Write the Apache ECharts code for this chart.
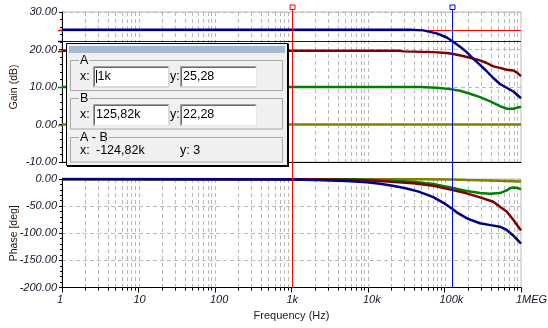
<!DOCTYPE html>
<html>
<head>
<meta charset="utf-8">
<script src="https://cdn.jsdelivr.net/npm/echarts@6/dist/echarts.min.js"></script>
<style>html,body{margin:0;padding:0;background:#fff;}#c{width:548px;height:328px;}</style>
</head>
<body>
<div id="c"></div>
<script>
// ---------- DATA ----------
const xTickLabels = ['1', '10', '100', '1k', '10k', '100k', '1MEG'];
const gainTickLabels = { '-10': '-10.00', '0': '0.00', '10': '10.00', '20': '20.00', '30': '30.00' };
const phaseTickLabels = { '-200': '-200.00', '-150': '-150.00', '-100': '-100.00', '-50': '-50.00', '0': '0.00' };
const gridFreqs = [2,3,4,5,6,7,8,9,10,20,30,40,50,60,70,80,90,100,200,300,400,500,600,700,800,900,1000,
  2000,3000,4000,5000,6000,7000,8000,9000,10000,20000,30000,40000,50000,60000,70000,80000,90000,100000,
  200000,300000,400000,500000,600000,700000,800000,900000];

const blueGainF = [1, 35000, 52800, 79000, 107000, 125820, 144000, 168000, 195000, 238000, 291000, 356000, 434000, 531000, 650000, 793000, 1000000];
const blueGainV = [25.28, 25.28, 25.1, 24.3, 23.2, 22.28, 21.4, 20.4, 19.3, 17.5, 15.9, 14.2, 12.4, 10.8, 9.8, 8.8, 7.0];
const cyanGainF = [1, 36000];
const cyanGainV = [24.95, 24.95];
const darkRedGainF = [1, 25000, 28900, 71400, 107000, 130000, 168000, 215000, 291000, 356000, 434000, 531000, 650000, 793000, 879000, 1000000];
const darkRedGainV = [19.7, 19.7, 19.5, 19.3, 19.05, 18.8, 18.35, 17.8, 17.1, 16.4, 15.5, 15.1, 14.6, 14.4, 13.9, 12.9];
const greenGainF = [1, 47900, 79000, 112000, 160000, 215000, 291000, 390000, 531000, 650000, 793000, 1000000];
const greenGainV = [10.0, 10.0, 9.8, 9.5, 9.0, 8.2, 7.3, 6.25, 4.9, 4.2, 4.2, 4.75];
const oliveGainF = [1, 1000000];
const oliveGainV = [0, 0];

const bluePhaseF = [1, 1000, 2000, 5300, 9600, 14400, 21000, 31000, 46000, 70000, 100000, 125820, 150000, 200000, 290000, 400000, 530000, 650000, 790000, 1000000];
const bluePhaseV = [0, -0.8, -2, -3.7, -6, -8.6, -12.3, -17.2, -23.3, -33, -45, -55, -63, -73, -81.5, -85, -88, -94, -104, -119];
const darkRedPhaseF = [1, 2000, 5300, 9600, 14400, 38900, 71400, 124000, 195000, 291000, 434000, 531000, 650000, 793000, 1000000];
const darkRedPhaseV = [0, -0.5, -1.5, -2.5, -3.7, -8, -12.3, -20, -26.4, -33.8, -42, -51, -60, -75, -95];
const greenPhaseF = [1, 5300, 14400, 38900, 71400, 124000, 195000, 291000, 390000, 531000, 650000, 718000, 793000, 900000, 1000000];
const greenPhaseV = [0, -0.5, -2.5, -5, -9, -16, -22, -26, -27.3, -26, -21, -17, -15.7, -16.5, -19.3];
const olivePhaseF = [1, 50000, 125000, 200000, 500000, 1000000];
const olivePhaseV = [0, -0.5, -1, -2, -3, -4.5];

const cursorX = [1000, 125820];
const cursorY = [25.28, 22.28];
const cursorColors = ['#ff0000', '#0000ff'];
const readoutA = ['1k', '25,28'];
const readoutB = ['125,82k', '22,28'];
const readoutDiff = ['-124,82k', '3'];

// ---------- CHART ----------
const NAVY = '#000080', DRED = '#800000', GREEN = '#008000', OLIVE = '#808000';
const pairs = (f, v) => f.map((x, i) => [x, v[i]]);
const chart = echarts.init(document.getElementById('c'), null, { renderer: 'canvas' });

function gridRenderer(withTicks) {
  return function (params, api) {
    const f = api.value(0);
    const p = api.coord([f, 0]);
    const cs = params.coordSys;
    const x = Math.round(p[0]) + 0.5;
    const children = [{
      type: 'line', shape: { x1: x, y1: cs.y, x2: x, y2: cs.y + cs.height },
      style: { stroke: '#b9b9b9', lineWidth: 1, lineDash: [4, 3] }
    }];
    const isDecade = Math.abs(Math.log10(f) - Math.round(Math.log10(f))) < 1e-9;
    if (withTicks && !isDecade) {
      children.push({ type: 'line', shape: { x1: x, y1: cs.y + cs.height, x2: x, y2: cs.y + cs.height + 3 },
        style: { stroke: '#000', lineWidth: 1 } });
    }
    return { type: 'group', children };
  };
}

const labelFont = { fontFamily: 'Liberation Sans, Arial, sans-serif', fontStyle: 'italic', fontSize: 11, color: '#15152a' };
const nameFont = { fontFamily: 'Liberation Sans, Arial, sans-serif', fontSize: 10.5, color: '#2a1608' };

function yAxisCfg(gi, min, max, interval, labels, name) {
  return {
    type: 'value', gridIndex: gi, min, max, interval,
    axisLine: { show: true, onZero: false, lineStyle: { color: '#000', width: 1 } },
    axisTick: { show: true, length: 3, lineStyle: { color: '#000' } },
    minorTick: { show: true, splitNumber: 5, length: 2, lineStyle: { color: '#000' } },
    splitLine: { show: true, lineStyle: { color: '#b9b9b9', type: [4, 3] } },
    axisLabel: Object.assign({ margin: 5, formatter: v => labels[String(v)] || '' }, labelFont),
    name, nameLocation: 'middle', nameGap: 42, nameRotate: 90, nameMoveOverlap: false, nameTextStyle: nameFont
  };
}

function xAxisCfg(gi, showLabels) {
  return {
    type: 'log', logBase: 10, gridIndex: gi, min: 1, max: 1000000,
    axisLine: { show: true, onZero: false, lineStyle: { color: '#000', width: 1 } },
    axisTick: { show: showLabels, length: 5, lineStyle: { color: '#000' } },
    splitLine: { show: false },
    axisLabel: Object.assign({ show: showLabels, margin: 7, showMinLabel: true, showMaxLabel: true,
      align: 'left', padding: [0, 0, 0, -5],
      formatter: v => xTickLabels[Math.round(Math.log10(v))] }, labelFont),
    name: showLabels ? 'Frequency (Hz)' : '', nameLocation: 'middle', nameGap: 23, nameMoveOverlap: false,
    nameTextStyle: { fontFamily: 'Liberation Sans, Arial, sans-serif', fontSize: 11, color: '#1a1a1a' }
  };
}

function lineSeries(xi, data, color, width) {
  return { type: 'line', xAxisIndex: xi, yAxisIndex: xi, data, showSymbol: false, symbol: 'none',
    lineStyle: { color, width }, itemStyle: { color }, silent: true, z: 3 };
}

const gridBase = { left: 62, width: 459, show: true, borderColor: '#bdbdbd', borderWidth: 1, backgroundColor: '#fff',
  containLabel: false, outerBoundsMode: 'none' };

const option = {
  animation: false,
  backgroundColor: '#fff',
  grid: [
    Object.assign({ top: 12, height: 150 }, gridBase),
    Object.assign({ top: 179, height: 108.5 }, gridBase)
  ],
  xAxis: [xAxisCfg(0, false), xAxisCfg(1, true)],
  yAxis: [
    yAxisCfg(0, -10, 30, 10, gainTickLabels, 'Gain (dB)'),
    yAxisCfg(1, -200, 0, 50, phaseTickLabels, 'Phase [deg]')
  ],
  series: [
    { type: 'custom', xAxisIndex: 0, yAxisIndex: 0, data: gridFreqs.map(f => [f]), renderItem: gridRenderer(false), silent: true, z: 1, clip: false },
    { type: 'custom', xAxisIndex: 1, yAxisIndex: 1, data: gridFreqs.map(f => [f]), renderItem: gridRenderer(true), silent: true, z: 1, clip: false },
    lineSeries(0, pairs(oliveGainF, oliveGainV), OLIVE, 2.5),
    lineSeries(0, pairs(greenGainF, greenGainV), GREEN, 2.5),
    lineSeries(0, pairs(darkRedGainF, darkRedGainV), DRED, 2.5),
    lineSeries(0, pairs(cyanGainF, cyanGainV), '#3cd6b4', 1),
    lineSeries(0, pairs(blueGainF, blueGainV), NAVY, 2.5),
    lineSeries(1, pairs(olivePhaseF, olivePhaseV), OLIVE, 2.5),
    lineSeries(1, pairs(greenPhaseF, greenPhaseV), GREEN, 2.5),
    lineSeries(1, pairs(darkRedPhaseF, darkRedPhaseV), DRED, 2.5),
    lineSeries(1, pairs(bluePhaseF, bluePhaseV), NAVY, 2.5)
  ]
};
chart.setOption(option);

// ---------- CURSORS & READOUT (positions from the chart's own scales) ----------
const P = (g, x, y) => chart.convertToPixel({ gridIndex: g }, [x, y]);
const g = [];
let n = 0;
const add = (e) => { e.id = 'e' + (n++); g.push(e); };
const left = P(0, 1, 30)[0];
const right = P(0, 1000000, 30)[0];
const bottomY = P(1, 1, -200)[1];
// horizontal cursor lines (beneath the curves)
cursorY.forEach((v, i) => {
  const y = Math.round(P(0, 1, v)[1]) + 0.5;
  add({ type: 'line', z: 2, silent: true, shape: { x1: left, y1: y, x2: right, y2: y }, style: { stroke: cursorColors[i], lineWidth: 1 } });
});
// level marks at left axis (curves and cursors)
[[cursorY[0], cursorColors[0]], [cursorY[1], cursorColors[1]], [darkRedGainV[0], DRED], [greenGainV[0], GREEN], [oliveGainV[0], OLIVE]].forEach(([v, c]) => {
  const y = Math.round(P(0, 1, v)[1]) + 0.5;
  add({ type: 'line', z: 4, silent: true, shape: { x1: left - 4, y1: y, x2: left, y2: y }, style: { stroke: c, lineWidth: 1.5 } });
});
// vertical cursor lines with square handles
cursorX.forEach((f, i) => {
  const x = Math.round(P(0, f, 0)[0]) + 0.5;
  add({ type: 'line', z: 5, silent: true, shape: { x1: x, y1: 9.5, x2: x, y2: bottomY }, style: { stroke: cursorColors[i], lineWidth: 1 } });
  add({ type: 'rect', z: 5, silent: true, shape: { x: x - 2.5, y: 5, width: 5, height: 4.5 }, style: { fill: '#fff', stroke: cursorColors[i], lineWidth: 1 } });
});

// readout box
const FONT = 'Liberation Sans, Arial, sans-serif';
const Z = 20;
function txt(x, y, s) {
  return { type: 'text', z: Z + 2, silent: true, x, y,
    style: { text: s, fill: '#000', font: '12.5px ' + FONT, textVerticalAlign: 'middle', textAlign: 'left' } };
}
function inputBox(x, y, w, h) {
  return [
    { type: 'rect', z: Z + 1, silent: true, shape: { x, y, width: w, height: h }, style: { fill: '#fff', stroke: '#a0a0a0', lineWidth: 1 } },
    { type: 'polyline', z: Z + 1, silent: true, shape: { points: [[x + 1, y + h - 1], [x + 1, y + 1], [x + w - 1, y + 1]] }, style: { stroke: '#696969', lineWidth: 1, fill: null } },
    { type: 'polyline', z: Z + 1, silent: true, shape: { points: [[x + 1, y + h], [x + w, y + h], [x + w, y]] }, style: { stroke: '#e8e8e8', lineWidth: 1, fill: null } }
  ];
}
function frame(y, h, label) {
  return [
    { type: 'rect', z: Z + 1, silent: true, shape: { x: 70.5, y, width: 212, height: h }, style: { fill: null, stroke: '#a8a8a8', lineWidth: 1 } },
    { type: 'text', z: Z + 2, silent: true, x: 79, y: y,
      style: { text: label, fill: '#000', font: '12.5px ' + FONT, textVerticalAlign: 'middle', backgroundColor: '#f0f0f0', padding: [0, 1] } }
  ];
}
add({ type: 'rect', z: Z, silent: true, shape: { x: 66.5, y: 43.5, width: 221, height: 122 }, style: { fill: '#f0f0f0', stroke: '#000', lineWidth: 1 } });
add({ type: 'line', z: Z, silent: true, shape: { x1: 288.5, y1: 44, x2: 288.5, y2: 167 }, style: { stroke: '#000', lineWidth: 1 } });
add({ type: 'line', z: Z, silent: true, shape: { x1: 67, y1: 166.5, x2: 289, y2: 166.5 }, style: { stroke: '#000', lineWidth: 1 } });
add({ type: 'rect', z: Z + 1, silent: true, shape: { x: 69, y: 46, width: 216, height: 7 }, style: { fill: '#a3bad2' } });
frame(60.5, 30, 'A').forEach(add);
frame(98.5, 30.5, 'B').forEach(add);
frame(137.5, 24.5, 'A - B').forEach(add);
inputBox(93.5, 66.5, 75.5, 20.5).forEach(add);
inputBox(180.5, 66.5, 76, 20.5).forEach(add);
inputBox(93.5, 104.5, 75.5, 21).forEach(add);
inputBox(180.5, 104.5, 76, 21).forEach(add);
add({ type: 'line', z: Z + 2, silent: true, shape: { x1: 96.5, y1: 70, x2: 96.5, y2: 83 }, style: { stroke: '#000', lineWidth: 1 } });
[txt(80, 76.5, 'x:'), txt(97.5, 76.5, readoutA[0]), txt(170, 76.5, 'y:'), txt(183, 76.5, readoutA[1]),
 txt(80, 115, 'x:'), txt(96, 115, readoutB[0]), txt(170, 115, 'y:'), txt(183, 115, readoutB[1]),
 txt(80, 151, 'x:'), txt(96, 151, readoutDiff[0]), txt(180, 151, 'y: ' + readoutDiff[1])].forEach(add);

chart.setOption({ graphic: { elements: g } });
</script>
</body>
</html>
